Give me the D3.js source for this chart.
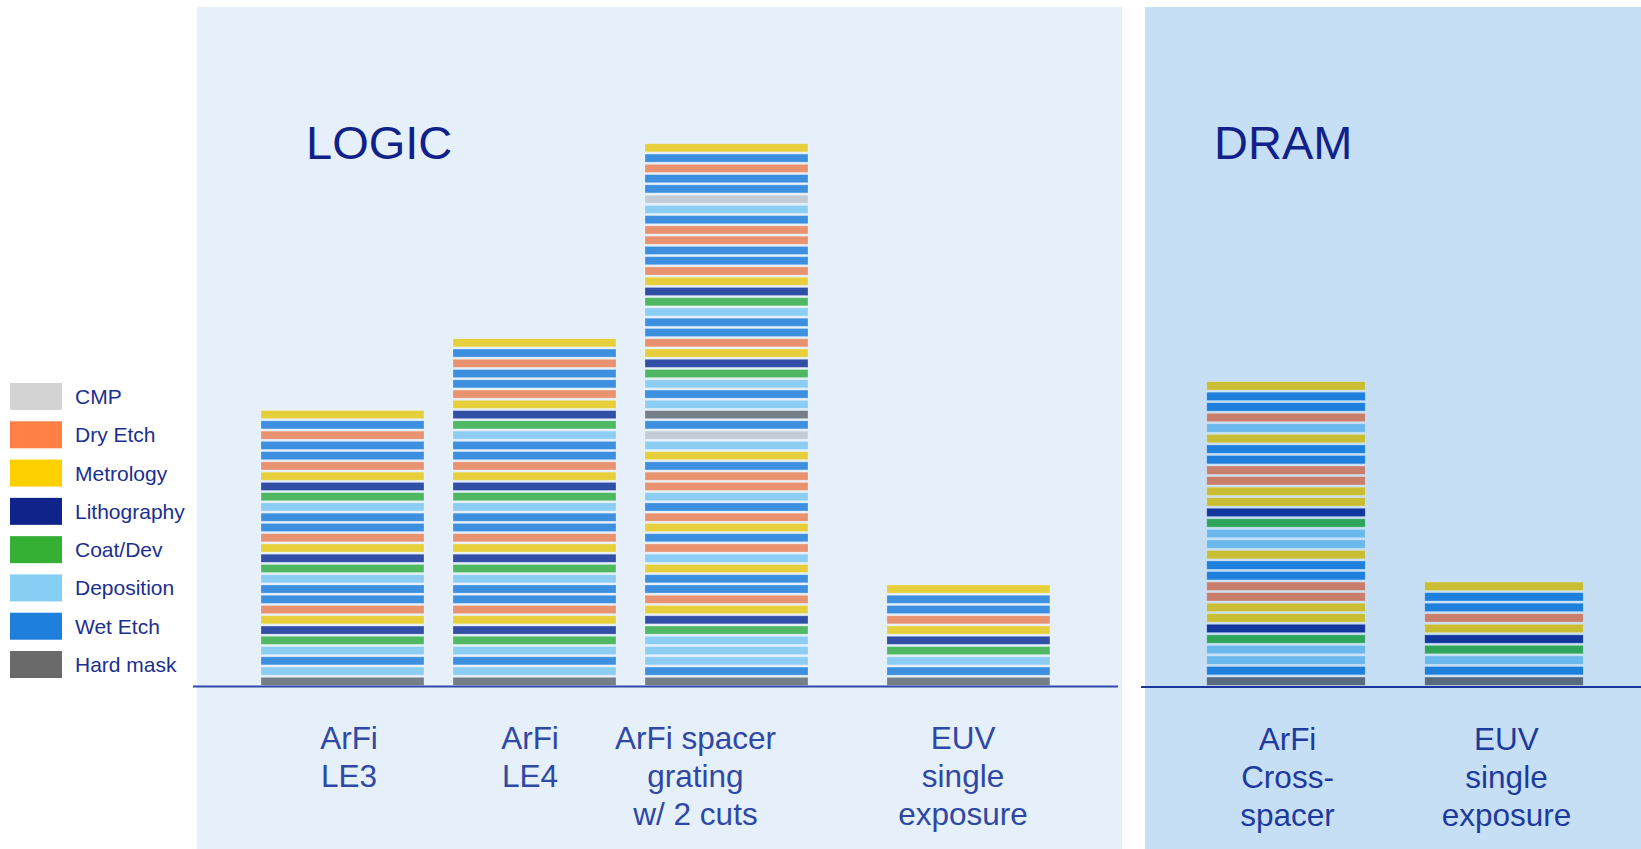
<!DOCTYPE html>
<html>
<head>
<meta charset="utf-8">
<script src="https://cdn.jsdelivr.net/npm/d3@7"></script>
<style>
  html, body { margin: 0; padding: 0; background: #ffffff; }
  svg { display: block; font-family: "Liberation Sans", Arial, Helvetica, sans-serif; }
</style>
</head>
<body>
<svg id="chart" width="1641" height="849"></svg>
<script>
// ---------------- DATA ----------------
// Process step types (legend order, top to bottom)
const stepTypes = ["CMP", "Dry Etch", "Metrology", "Lithography", "Coat/Dev", "Deposition", "Wet Etch", "Hard mask"];
const stepCodes = ["CMP", "DRY", "MET", "LITH", "COAT", "DEP", "WET", "HM"];

// Panels
const panelTitles = ["LOGIC", "DRAM"];

// Categories (x axis)
const logicCategories = ["ArFi LE3", "ArFi LE4", "ArFi spacer grating w/ 2 cuts", "EUV single exposure"];
const logicLabelLines = [["ArFi", "LE3"], ["ArFi", "LE4"], ["ArFi spacer", "grating", "w/ 2 cuts"], ["EUV", "single", "exposure"]];
const dramCategories = ["ArFi Cross-spacer", "EUV single exposure"];
const dramLabelLines = [["ArFi", "Cross-", "spacer"], ["EUV", "single", "exposure"]];

// Process step sequences, listed from the TOP of each stack down to the bottom
const stepsArFiLE3 = ["MET","WET","DRY","WET","WET","DRY","MET","LITH","COAT","DEP","WET","WET","DRY","MET","LITH","COAT","DEP","WET","WET","DRY","MET","LITH","COAT","DEP","WET","DEP","HM"];
const stepsArFiLE4 = ["MET","WET","DRY","WET","WET","DRY","MET","LITH","COAT","DEP","WET","WET","DRY","MET","LITH","COAT","DEP","WET","WET","DRY","MET","LITH","COAT","DEP","WET","WET","DRY","MET","LITH","COAT","DEP","WET","DEP","HM"];
const stepsArFiSpacer = ["MET","WET","DRY","WET","WET","CMP","DEP","WET","DRY","DRY","WET","WET","DRY","MET","LITH","COAT","DEP","WET","WET","DRY","MET","LITH","COAT","DEP","WET","DEP","HM","WET","CMP","DEP","MET","WET","DRY","DRY","DEP","WET","DRY","MET","WET","DRY","DEP","MET","WET","WET","DRY","MET","LITH","COAT","DEP","DEP","DEP","WET","HM"];
const stepsLogicEUV = ["MET","WET","WET","DRY","MET","LITH","COAT","DEP","WET","HM"];
const stepsDramCrossSpacer = ["MET","WET","WET","DRY","DEP","MET","WET","WET","DRY","DRY","MET","MET","LITH","COAT","DEP","DEP","MET","WET","WET","DRY","DRY","MET","MET","LITH","COAT","DEP","DEP","WET","HM"];
const stepsDramEUV = ["MET","WET","WET","DRY","MET","LITH","COAT","DEP","WET","HM"];

const logicSteps = [stepsArFiLE3, stepsArFiLE4, stepsArFiSpacer, stepsLogicEUV];
const dramSteps = [stepsDramCrossSpacer, stepsDramEUV];

// ---------------- STYLE / LAYOUT ----------------
const legendColors = {CMP:"#d3d3d3", DRY:"#ff7f45", MET:"#ffd000", LITH:"#10238a", COAT:"#35b035", DEP:"#87cef5", WET:"#1e7fdc", HM:"#6a6a6a"};
const logicColors  = {CMP:"#c3ccd6", DRY:"#e89270", MET:"#e6cf3a", LITH:"#324fa8", COAT:"#4fb862", DEP:"#8ccdf3", WET:"#3d8fdf", HM:"#757f8a"};
const dramColors   = {CMP:"#b8c4d0", DRY:"#c87e6a", MET:"#c8bd33", LITH:"#1238a0", COAT:"#2fa55c", DEP:"#6ab8ec", WET:"#1e7fdc", HM:"#586a80"};

const W = 1641, H = 849;
const baseY = 686.5;
const layerGap = 2.2;

const svg = d3.select("#chart");
svg.append("rect").attr("width", W).attr("height", H).attr("fill", "#ffffff");

// Panel backgrounds
svg.append("rect").attr("x", 197).attr("y", 7).attr("width", 1122 - 197).attr("height", H - 7).attr("fill", "#e6f0fa");
svg.append("rect").attr("x", 1145).attr("y", 7).attr("width", W - 1145).attr("height", H - 7).attr("fill", "#c7dff5");

// Panel titles
svg.append("text").attr("x", 306).attr("y", 159).attr("font-size", 47).attr("fill", "#10228a").text(panelTitles[0]);
svg.append("text").attr("x", 1214).attr("y", 159).attr("font-size", 47).attr("fill", "#10228a").text(panelTitles[1]);

// Scales
// Slot positions (layout): index of each category along the panel
const logicSlots = [0, 1, 2, 3.26];
const dramSlots = [0, 1];
const xLogic = d3.scaleLinear().domain([0, 1]).range([342.5, 534.5]);
const xDram = d3.scaleLinear().domain([0, 1]).range([1286, 1504]);
const logicBarWidth = 163;
const dramBarWidth = 158.5;

const yLogic = d3.scaleLinear().domain([0, 60]).range([baseY, baseY - 60 * 10.26]);
const yDram = d3.scaleLinear().domain([0, 30]).range([baseY, baseY - 30 * 10.55]);

function drawPanel(categories, stepsList, slots, xScale, yScale, barWidth, colors) {
  const g = svg.append("g");
  categories.forEach((cat, ci) => {
    const steps = stepsList[ci].slice().reverse(); // bottom to top
    const cx = xScale(slots[ci]);
    g.append("g").attr("class", "bar").attr("data-category", cat)
      .selectAll("rect")
      .data(steps)
      .join("rect")
      .attr("x", cx - barWidth / 2)
      .attr("width", barWidth)
      .attr("y", (d, i) => yScale(i + 1) + layerGap / 2)
      .attr("height", (d, i) => yScale(i) - yScale(i + 1) - layerGap)
      .attr("fill", d => colors[d])
      .attr("stroke", "#ffffff")
      .attr("stroke-opacity", 0.3)
      .attr("stroke-width", 0.8);
  });
}

drawPanel(logicCategories, logicSteps, logicSlots, xLogic, yLogic, logicBarWidth, logicColors);
drawPanel(dramCategories, dramSteps, dramSlots, xDram, yDram, dramBarWidth, dramColors);

// Baselines
svg.append("line").attr("x1", 193).attr("x2", 1118).attr("y1", baseY).attr("y2", baseY)
  .attr("stroke", "#2e49a8").attr("stroke-width", 2);
svg.append("line").attr("x1", 1141).attr("x2", W).attr("y1", baseY + 0.5).attr("y2", baseY + 0.5)
  .attr("stroke", "#1b3799").attr("stroke-width", 2);

// Category labels
const logicLabelShift = [6.5, -4.5, -31, -5.4];
const dramLabelShift = [1.5, 2.5];
function drawLabels(lines, slots, xScale, shifts, firstBaseline, color) {
  lines.forEach((ls, ci) => {
    const t = svg.append("text")
      .attr("text-anchor", "middle")
      .attr("font-size", 31.5)
      .attr("fill", color);
    ls.forEach((line, li) => {
      t.append("tspan")
        .attr("x", xScale(slots[ci]) + shifts[ci])
        .attr("y", firstBaseline + li * 38)
        .text(line);
    });
  });
}
drawLabels(logicLabelLines, logicSlots, xLogic, logicLabelShift, 749, "#2f48a5");
drawLabels(dramLabelLines, dramSlots, xDram, dramLabelShift, 750, "#1d3a9e");

// Legend
const legendY = d3.scalePoint().domain(stepCodes).range([396.5, 664.5]);
const legend = svg.append("g");
stepCodes.forEach((code, i) => {
  legend.append("rect")
    .attr("x", 10).attr("y", legendY(code) - 13.5)
    .attr("width", 52).attr("height", 27)
    .attr("fill", legendColors[code]);
  legend.append("text")
    .attr("x", 75).attr("y", legendY(code) + 7.5)
    .attr("font-size", 21)
    .attr("fill", "#1b2f8f")
    .text(stepTypes[i]);
});
</script>
</body>
</html>
